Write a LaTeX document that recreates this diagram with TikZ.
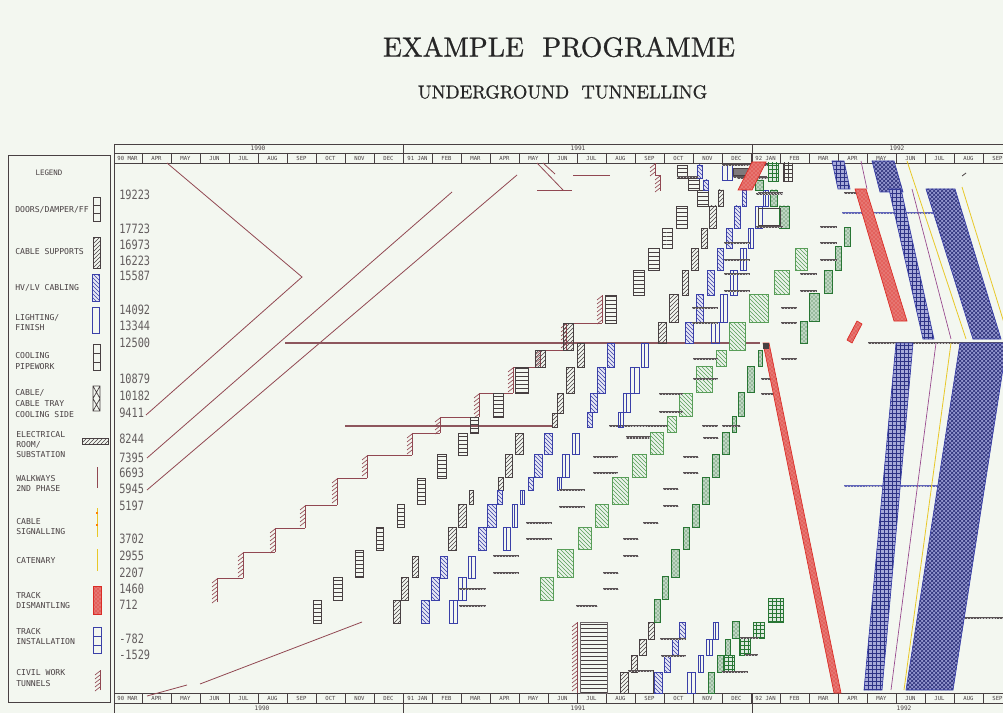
\documentclass[tikz,border=0pt]{standalone}
\usepackage{graphicx}
\usepackage{fontspec}
\newfontfamily\plotfont{DejaVu Sans Mono}
\newfontfamily\titlefont{Latin Modern Roman}[FakeBold=0.8]
\usetikzlibrary{patterns}
\definecolor{bg}{RGB}{243,247,240}
\definecolor{ink}{RGB}{72,64,66}
\definecolor{wbrown}{RGB}{145,72,82}
\definecolor{hvblue}{RGB}{58,64,168}
\definecolor{lgreen}{RGB}{88,158,88}
\definecolor{dgreen}{RGB}{40,118,52}
\definecolor{tred}{RGB}{218,44,38}
\definecolor{cyel}{RGB}{232,200,40}
\definecolor{purp}{RGB}{150,70,140}
\tikzset{
  lw/.style={line width=0.5pt},
  cs/.style={draw=ink, lw, pattern=north east lines, pattern color=ink},
  hv/.style={draw=hvblue, lw, preaction={fill=hvblue!12}, pattern=north west lines, pattern color=hvblue},
  cp/.style={draw=ink, lw, pattern=horizontal lines, pattern color=ink},
  gl/.style={draw=lgreen, lw, preaction={fill=lgreen!12}, pattern=north west lines, pattern color=lgreen},
  gd/.style={draw=dgreen, lw, preaction={fill=dgreen!30}, pattern=crosshatch dots, pattern color=dgreen!80!black},
  gg/.style={draw=dgreen, lw, preaction={fill=dgreen!15}, pattern=grid, pattern color=dgreen},
  trd/.style={draw=tred, lw, preaction={fill=tred!75}, pattern=crosshatch dots, pattern color=white!70!tred},
  tin/.style={draw=hvblue, lw, preaction={fill=hvblue!45}, pattern=grid, pattern color=hvblue!80!black},
  tbig/.style={draw=hvblue, lw, preaction={fill=hvblue!55}, pattern=crosshatch, pattern color=hvblue!70!black},
  civl/.style={draw=wbrown, line width=0.6pt},
  walk/.style={draw=wbrown, line width=0.6pt},
  sbo/.style={draw=ink!90, line width=2pt},
  sbi/.style={draw=gray!45, line width=0.5pt, dash pattern=on 1pt off 1.2pt},
  frame/.style={draw=ink, line width=0.6pt},
  mon/.style={font=\fontsize{4.2}{5}\plotfont, text=ink, inner sep=0pt},
  yr/.style={font=\fontsize{4.6}{5}\plotfont, text=ink, inner sep=0pt},
  chl/.style={anchor=west, inner sep=0pt, font=\fontsize{7.7}{9}\plotfont, text=ink!85},
  legt/.style={anchor=west, inner sep=0pt, font=\fontsize{6.1}{7}\plotfont, text=ink}
}
\newcommand\civ[3]{%
  \draw[civl] (#1,#2)--(#1,#3);
  \pgfmathtruncatemacro\cn{(#2-#3)/4}%
  \foreach \k in {1,...,\cn}{\draw[civl, line width=0.5pt] (#1,{#3+4*\k-3}) -- ++(-5,4);}%
}
\newcommand\sbar[3]{\draw[sbo] (#1,#3)--(#2,#3); \draw[sbi] (#1,#3)--(#2,#3);}
\newcommand\ltb[4]{\draw[draw=hvblue, lw] (#1,#2) rectangle (#3,#4); \draw[draw=hvblue, line width=0.4pt] ({(#1+#3)/2},#2)--({(#1+#3)/2},#4);}
\begin{document}
\begin{tikzpicture}[x=0.75pt,y=-0.75pt]
\useasboundingbox (0,0) rectangle (1003,713);
\fill[bg] (0,0) rectangle (1003,713);
\clip (0,0) rectangle (1003,713);

% titles
\node[inner sep=0pt, text=black!85] (title) at (559,47) {\resizebox{264pt}{!}{\titlefont EXAMPLE\ \ PROGRAMME}};
\node[inner sep=0pt, text=black!85] (subtitle) at (562.5,92) {\resizebox{217pt}{!}{\titlefont UNDERGROUND\ \ TUNNELLING}};

% legend box
\draw[frame] (8,155) rectangle (110,702);
\node[inner sep=0pt, font=\fontsize{5.6}{7}\plotfont, text=ink] (leg) at (49,173) {LEGEND};
\node[legt] (l1) at (15,210) {DOORS/DAMPER/FF};
\node[legt] (l2) at (15,252) {CABLE SUPPORTS};
\node[legt] (l3) at (15,288) {HV/LV CABLING};
\node[legt] (l4a) at (15,318) {LIGHTING/};
\node[legt] (l4b) at (15,328) {FINISH};
\node[legt] (l5a) at (15,356) {COOLING};
\node[legt] (l5b) at (15,367) {PIPEWORK};
\node[legt] (l6a) at (15,393) {CABLE/};
\node[legt] (l6b) at (15,404) {CABLE TRAY};
\node[legt] (l6c) at (15,415) {COOLING SIDE};
\node[legt] (l7a) at (16,435) {ELECTRICAL};
\node[legt] (l7b) at (16,445) {ROOM/};
\node[legt] (l7c) at (16,455) {SUBSTATION};
\node[legt] (l8a) at (16,479) {WALKWAYS};
\node[legt] (l8b) at (16,489) {2ND PHASE};
\node[legt] (l9a) at (16,522) {CABLE};
\node[legt] (l9b) at (16,532) {SIGNALLING};
\node[legt] (l10) at (16,561) {CATENARY};
\node[legt] (l11a) at (16,596) {TRACK};
\node[legt] (l11b) at (16,606) {DISMANTLING};
\node[legt] (l12a) at (16,632) {TRACK};
\node[legt] (l12b) at (16,642) {INSTALLATION};
\node[legt] (l13a) at (16,673) {CIVIL WORK};
\node[legt] (l13b) at (16,684) {TUNNELS};
% legend symbols
\draw[ink,lw] (93,197) rectangle (100,221) (93,205)--(100,205) (93,213)--(100,213);
\draw[cs] (93,237) rectangle (100,268);
\draw[hv] (92,274) rectangle (99,301);
\draw[hvblue,lw] (92,307) rectangle (99,333);
\draw[ink,lw] (93,344) rectangle (100,370) (93,353)--(100,353) (93,362)--(100,362);
\draw[ink,lw] (93,386) rectangle (100,411) (93,386)--(100,398.5)--(93,411) (100,386)--(93,398.5)--(100,411);
\draw[cs] (82,438) rectangle (108,444);
\draw[walk] (97,467)--(97,488);
\draw[cyel, line width=0.7pt] (97,508)--(97,537);
\draw[orange, line width=1pt] (96,513)--(98,513) (96,525)--(98,525);
\draw[cyel, line width=0.7pt] (97,549)--(97,571);
\draw[trd] (93,586) rectangle (101,614);
\draw[hvblue,lw] (93,627) rectangle (101,653) (93,636)--(101,636) (93,645)--(101,645);
\civ{100}{690}{670}

% chart frame and axes
\draw[frame] (114,144)--(114,713);
\draw[frame] (114,144) rectangle (1010,153);
\draw[frame] (114,153) rectangle (1010,163);
\draw[frame] (114,693) rectangle (1010,703);
\draw[frame] (114,703) rectangle (1010,713);
\draw[frame] (403,144)--(403,163) (752,144)--(752,163);
\draw[frame] (403,693)--(403,713) (752,693)--(752,713);
\foreach \i in {1,...,30}{\draw[ink,line width=0.5pt] ({113+29*\i},153)--({113+29*\i},163) ({113+29*\i},693)--({113+29*\i},703);}
\foreach \lab [count=\i from 0] in {90 MAR,APR,MAY,JUN,JUL,AUG,SEP,OCT,NOV,DEC,91 JAN,FEB,MAR,APR,MAY,JUN,JUL,AUG,SEP,OCT,NOV,DEC,92 JAN,FEB,MAR,APR,MAY,JUN,JUL,AUG,SEP}{
  \node[mon] (mt\i) at ({113+29*\i+14.5},158) {\lab};
  \node[mon] (mb\i) at ({113+29*\i+14.5},698) {\lab};
}
\node[yr] (y90t) at (258,148.5) {1990};
\node[yr] (y91t) at (578,148.5) {1991};
\node[yr] (y92t) at (897,148.5) {1992};
\node[yr] (y90b) at (262,708.5) {1990};
\node[yr] (y91b) at (578,708.5) {1991};
\node[yr] (y92b) at (904,708.5) {1992};

% chainage labels
\foreach \v/\y in {19223/195,17723/229,16973/245,16223/261,15587/276,14092/310,13344/326,12500/343,10879/379,10182/396,9411/413,8244/439,7395/458,6693/473,5945/489,5197/506,3702/539,2955/556,2207/573,1460/589,712/605,-782/639,-1529/655}{
  \node[chl] (ch\y) at (119,\y) {\scalebox{1}[1.25]{\v}};
}

% walkway diagonals
\draw[walk] (167,163)--(302,277)--(146,415);
\draw[walk] (147,458)--(452,192);
\draw[walk] (147,490)--(517,175);
\draw[walk] (147,696)--(187,685);
\draw[walk] (200,684)--(362,622);
\draw[walk] (537,163)--(563,190) (543,163)--(555,174);
\draw[walk] (537,190)--(572,190);
\draw[walk] (573,175)--(610,175);

% long horizontal bars
\draw[draw=wbrown!75!gray, line width=2pt] (285,343)--(760,343);
\draw[draw=wbrown!75!gray, line width=1.6pt] (345,426)--(552,426);
\sbar{868}{1003}{343}
\sbar{609}{673}{426}

% civil staircase
\foreach \x/\yb/\yt/\xn in {217/602/578/243,243/578/552/275,275/552/528/305,305/528/505/337,337/505/478/367,367/478/455/412,412/455/433/440,440/433/417/479,479/417/393/513,513/393/367/540,540/367/350/566,566/350/323/602,602/323/295/602}{
  \civ{\x}{\yb}{\yt}
  \draw[civl] (\x,\yt)--(\xn,\yt);
}
\civ{660}{191}{175}
\draw[civl] (655,175)--(660,175);
\civ{655}{175}{163}
\civ{577}{693}{622}
\draw[cp, draw=ink!80] (580,622) rectangle (607,693);

% cooling pipework
\foreach \a/\b/\c/\d in {313/600/321/623,333/577/342/600,355/550/363/577,376/527/383/550,397/504/404/527,417/478/425/504,437/454/446/478,458/433/467/455,470/417/478/433,493/393/503/417,515/367/528/393,605/295/616/323,633/270/644/295,648/248/659/270,662/228/672/248,676/206/687/228,697/190/708/206,688/178/699/190,677/165/687/178}{
  \draw[cp] (\a,\b) rectangle (\c,\d);
}
% cable supports
\foreach \a/\b/\c/\d in {393/600/400/623,401/577/408/600,412/556/418/577,448/527/456/550,458/504/466/527,469/490/473/504,498/477/503/490,505/454/512/477,515/433/523/454,552/413/557/427,557/393/563/413,566/367/574/393,577/343/584/367,535/350/545/367,563/323/573/350,658/322/666/343,669/294/678/322,682/270/688/295,691/248/698/270,701/228/707/248,709/206/716/228,718/190/723/206,620/672/628/693,631/655/637/672,639/639/646/655,648/622/654/639}{
  \draw[cs] (\a,\b) rectangle (\c,\d);
}
% HV/LV cabling
\foreach \a/\b/\c/\d in {421/600/429/623,431/577/439/600,440/556/447/578,478/527/486/550,487/504/496/527,497/490/502/504,528/477/533/490,534/454/542/477,544/433/552/454,587/412/592/427,590/393/597/412,597/367/605/393,607/343/614/367,685/322/693/343,696/294/703/322,707/270/714/295,717/248/723/270,726/228/732/248,734/206/740/228,742/190/746/206,697/165/702/178,703/180/708/190,654/672/662/693,664/655/670/672,672/639/678/655,679/622/685/639}{
  \draw[hv] (\a,\b) rectangle (\c,\d);
}
% lighting
\foreach \a/\b/\c/\d in {449/600/457/623,458/577/466/600,468/556/475/578,503/527/510/550,512/504/517/527,520/490/524/504,557/477/561/490,562/454/569/477,572/433/579/454,618/412/623/427,623/393/630/412,630/367/639/393,641/343/648/367,711/322/719/343,720/294/727/322,730/270/737/295,740/248/746/270,748/228/753/248,755/206/762/228,763/190/768/206,722/165/732/180,687/672/695/693,698/655/703/672,706/639/712/655,713/622/718/639}{
  \ltb{\a}{\b}{\c}{\d}
}
% light green (cable tray cooling side)
\foreach \a/\b/\c/\d in {540/577/553/600,557/549/573/577,578/527/591/549,595/504/608/527,612/477/628/504,632/454/646/477,650/432/663/454,667/416/676/432,679/393/692/416,696/366/712/392,716/350/726/366,729/322/745/350,749/294/768/322,774/270/789/294,795/248/807/270}{
  \draw[gl] (\a,\b) rectangle (\c,\d);
}
% dark green crosshatch
\foreach \a/\b/\c/\d in {654/599/660/622,662/576/668/599,671/549/679/577,683/527/689/549,692/504/699/527,702/477/709/504,712/454/719/477,722/432/729/454,732/416/736/432,738/392/744/416,747/366/754/392,758/350/762/366,800/321/807/343,809/293/819/321,824/270/832/293,835/246/841/270,844/227/850/246,779/206/789/228,770/190/777/206,755/180/763/190,708/672/714/693,717/655/723/672,725/639/730/655,732/621/739/638}{
  \draw[gd] (\a,\b) rectangle (\c,\d);
}
% green grid
\foreach \a/\b/\c/\d in {768/598/783/622,753/622/764/638,739/638/750/655,723/655/734/672,768/163/778/181}{
  \draw[gg] (\a,\b) rectangle (\c,\d);
}
\draw[ink,lw,pattern=grid,pattern color=ink] (783,163) rectangle (792,181);
% open boxes
\draw[ink,lw] (628,670) rectangle (653,693);
\draw[ink,lw] (758,208) rectangle (780,225);
\draw[ink,lw,fill=ink!70] (733,168) rectangle (750,175);

% substation bars
\foreach \a/\b/\y in {626/650/438,593/618/457,593/618/473,559/585/490,559/585/507,526/552/523,526/552/539,493/519/556,493/519/573,459/486/589,459/486/606,576/597/606,603/618/573,603/618/589,623/638/539,623/638/556,643/658/523,663/678/489,663/678/506,683/698/457,683/698/473,703/718/438,626/650/437,659/683/394,659/683/412,693/718/359,693/718/379,702/718/426,722/740/426,761/777/379,761/777/394,781/797/308,781/797/323,781/797/359,800/817/274,800/817/291,820/837/227,820/837/243,820/837/260,692/718/308,692/718/323,724/750/243,724/750/260,724/750/274,724/750/291,756/783/227,756/783/194,733/767/177,660/686/639,661/686/656,628/653/671,722/748/672,740/758/638,745/758/655,722/768/165,737/768/178,677/698/177,758/783/193,844/857/193,958/1003/618}{
  \sbar{\a}{\b}{\y}
}
\draw[draw=hvblue!80, line width=1.8pt] (842,213)--(941,213);
\draw[sbi] (842,213)--(941,213);
\draw[draw=hvblue!80, line width=1.8pt] (844,486)--(944,486);
\draw[sbi] (844,486)--(944,486);

% track dismantling (red)
\draw[trd] (763,343)--(769,343)--(841,693)--(834,693)--cycle;
\fill[ink] (763,343) rectangle (769,349);
\draw[trd] (855,189)--(866,189)--(907,321)--(894,321)--cycle;
\draw[trd] (847,340)--(852,343)--(862,324)--(857,321)--cycle;
\draw[trd] (752,162)--(766,162)--(752,190)--(738,190)--cycle;

% track installation (blue)
\draw[tin] (832,161)--(844,161)--(850,189)--(838,189)--cycle;
\draw[tbig] (872,161)--(894,161)--(903,192)--(880,192)--cycle;
\draw[tin] (889,189)--(901,189)--(934,339)--(923,339)--cycle;
\draw[tin] (896,343)--(913,343)--(882,690)--(864,690)--cycle;
\draw[tbig] (926,189)--(955,189)--(1001,339)--(973,339)--cycle;
\draw[tbig] (960,343)--(1007,343)--(953,690)--(906,690)--cycle;

% catenary / signalling / walkway lines on right
\draw[purp, line width=0.5pt] (861,161)--(867,189);
\draw[purp, line width=0.5pt] (912,189)--(951,339);
\draw[purp, line width=0.5pt] (936,343)--(891,690);
\draw[cyel, line width=0.6pt] (907,161)--(966,339);
\draw[cyel, line width=0.6pt] (962,187)--(1009,339);
\draw[cyel, line width=0.6pt] (951,343)--(904,690);
\draw[ink, line width=0.6pt] (962,176)--(966,173);
\end{tikzpicture}
\end{document}
